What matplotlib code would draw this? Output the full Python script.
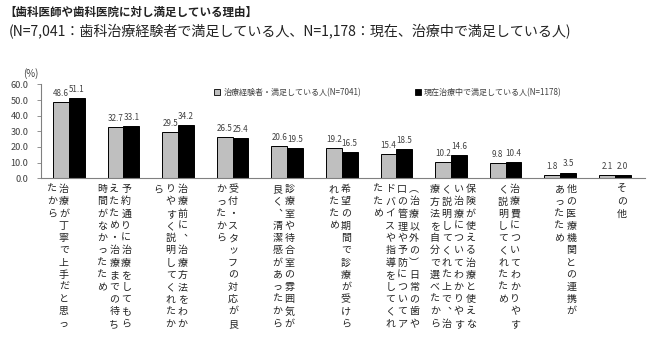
import matplotlib
matplotlib.use("Agg")
import matplotlib.pyplot as plt
from matplotlib.patches import Patch

plt.rcParams['font.family'] = ['Noto Sans CJK JP', 'DejaVu Sans']

# ---------------- data ----------------
title = "【歯科医師や歯科医院に対し満足している理由】"
subtitle = "(N=7,041：歯科治療経験者で満足している人、N=1,178：現在、治療中で満足している人)"

# each category label as vertical columns (right-to-left)
category_columns = [
    ["治療が丁寧で上手だと思っ", "たから"],
    ["予約通りに治療をしてもら", "えたため・治療までの待ち", "時間がなかったため"],
    ["治療前に︑治療方法をわか", "りやすく説明してくれたか", "ら"],
    ["受付・スタッフの対応が良", "かったから"],
    ["診療室や待合室の雰囲気が", "良く︑清潔感があったから"],
    ["希望の期間で診療が受けら", "れたため"],
    ["︵治療以外の︶日常の歯や", "口の管理や予防についてア", "ドバイスや指導をしてくれ", "たため"],
    ["保険が使える治療と使えな", "い治療についてわかりやす", "く説明してくれた上で︑治", "療方法を自分で選べたから"],
    ["治療費についてわかりやす", "く説明してくれたため"],
    ["他の医療機関との連携が", "あったため"],
    ["その他"],
]

series_names = ["治療経験者・満足している人(N=7041)", "現在治療中で満足している人(N=1178)"]
experienced = [48.6, 32.7, 29.5, 26.5, 20.6, 19.2, 15.4, 10.2, 9.8, 1.8, 2.1]
current = [51.1, 33.1, 34.2, 25.4, 19.5, 16.5, 18.5, 14.6, 10.4, 3.5, 2.0]

yticks = [0, 10, 20, 30, 40, 50, 60]

# ---------------- figure ----------------
fig = plt.figure(figsize=(6.5, 3.52), dpi=100)
ax = fig.add_axes([0.063, 0.494, 0.929, 0.266])

n = len(experienced)
x = list(range(n))
bw = 0.29
ax.bar([i - bw / 2 for i in x], experienced, width=bw, color="#bfbfbf",
       edgecolor="black", linewidth=0.7, zorder=2)
ax.bar([i + bw / 2 for i in x], current, width=bw, color="black",
       edgecolor="black", linewidth=0.7, zorder=2)

for i in x:
    ax.annotate(f"{experienced[i]:.1f}", (i - bw / 2, experienced[i]),
                xytext=(0, 3), textcoords="offset points", ha="center",
                va="bottom", fontsize=5.8, color="#404040")
    ax.annotate(f"{current[i]:.1f}", (i + bw / 2, current[i]),
                xytext=(0, 3), textcoords="offset points", ha="center",
                va="bottom", fontsize=5.8, color="#404040")

ax.set_xlim(-0.51, 10.55)
ax.set_ylim(0, 60)
ax.set_yticks(yticks)
ax.set_yticklabels([f"{v:.1f}" for v in yticks], fontsize=6.6, color="#404040")
ax.set_xticks([])
for s in ["top", "right"]:
    ax.spines[s].set_visible(False)
ax.spines["left"].set_color("#808080")
ax.spines["left"].set_linewidth(0.8)
ax.spines["bottom"].set_color("#808080")
ax.spines["bottom"].set_linewidth(0.8)
ax.tick_params(axis="y", length=3, width=0.6, color="#808080", pad=6)

ax.text(-0.017, 1.06, "(%)", transform=ax.transAxes, ha="center", va="bottom",
        fontsize=7, color="#404040")

# vertical category labels
col_sp = 8.6   # points between columns
row_sp = 8.8   # points between characters
for i, cols in enumerate(category_columns):
    cx = i - 0.2 + 0.033 * i
    ncol = len(cols)
    for k, col in enumerate(cols):
        dx = ((ncol - 1) / 2 - k) * col_sp
        for r, ch in enumerate(col):
            ax.annotate(ch, (cx, 0), xycoords=("data", "axes fraction"),
                        xytext=(dx, -8 - r * row_sp), textcoords="offset points",
                        ha="center", va="center", fontsize=7.2, color="#222222",
                        annotation_clip=False)

# legend
handles = [Patch(facecolor="#bfbfbf", edgecolor="black", linewidth=0.6),
           Patch(facecolor="black", edgecolor="black", linewidth=0.6)]
fig.legend(handles, series_names, loc="center left",
           bbox_to_anchor=(0.318, 0.738), ncol=2, frameon=False,
           fontsize=5.8, handlelength=0.8, handleheight=0.8,
           handletextpad=0.4, columnspacing=6.6, labelcolor="#404040")

fig.text(0.006, 0.965, title, ha="left", va="center", fontsize=8.3,
         fontweight="bold", color="#222222")
fig.text(0.014, 0.91, subtitle, ha="left", va="center", fontsize=10.1,
         color="#222222")

fig.savefig("out.png", dpi=100)
